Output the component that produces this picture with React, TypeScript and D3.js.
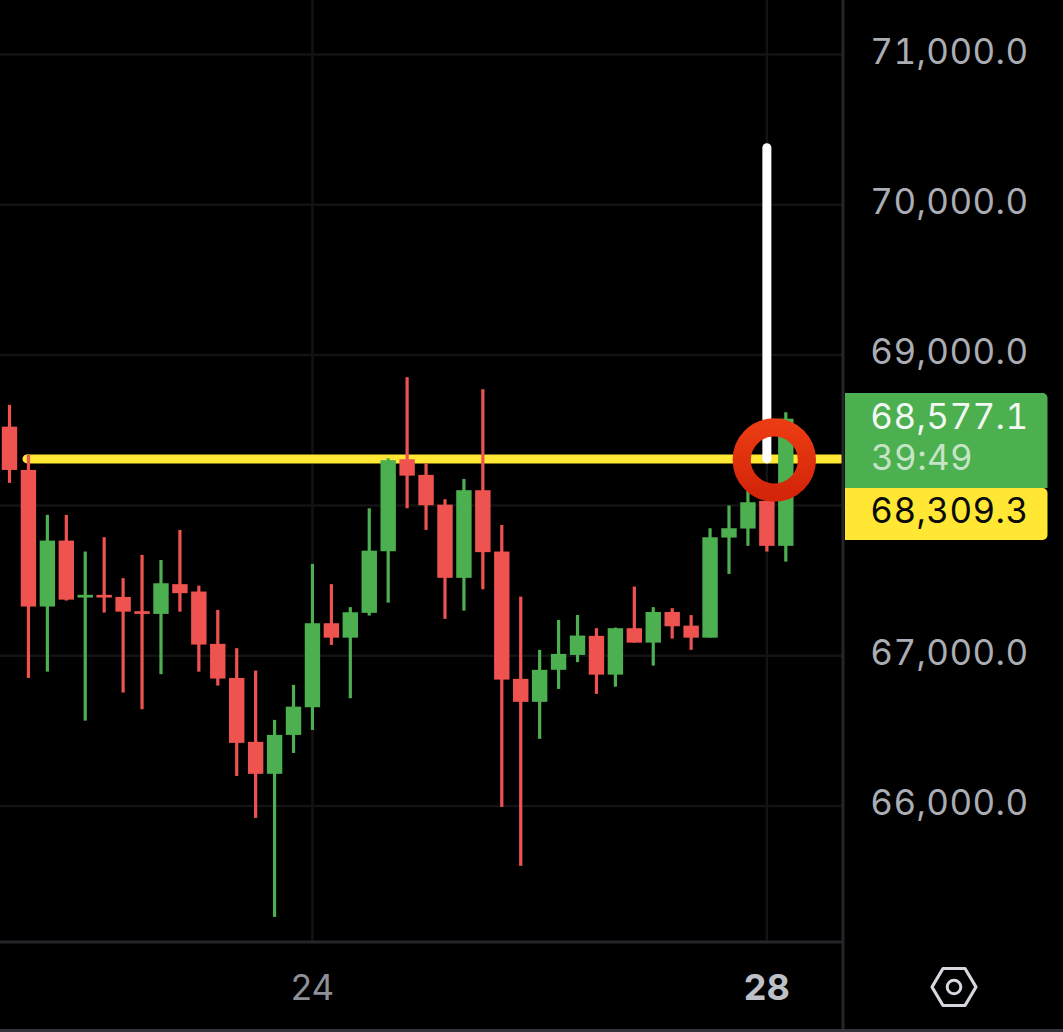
import React, { useEffect } from "react";
import * as d3 from "d3";

const opens = [68524,68236,67327,67766,67387,67405,67391,67296,67278,67476,67427,67079,66852,66427,66214,66473,66657,67216,67120,67285,67695,68307,68203,68005,67518,68101,67693,66846,66693,66906,67005,67132,66874,67183,67087,67291,67200,67120,67786,67846,68030,67731];
const highs = [68669,68336,67937,67937,67693,67788,67516,67671,67637,67837,67466,67305,67050,66901,66573,66806,67611,67476,67323,67981,68314,68853,68281,68041,68176,68773,67870,67393,67039,67238,67271,67183,67187,67460,67323,67316,67270,67848,67999,68103,68050,68620];
const lows = [68150,66852,66894,67367,66568,67287,66755,66644,66877,67293,66894,66801,66200,65921,65262,66353,66506,67072,66717,67267,67353,67981,67837,67245,67300,67442,65994,65602,66447,66779,66957,66746,66794,67087,66934,67114,67039,67120,67544,67731,67693,67626];
const closes = [68236,67327,67766,67373,67405,67387,67293,67278,67482,67416,67074,66848,66420,66214,66473,66661,67216,67120,67289,67699,68301,68198,68001,67518,68101,67689,66841,66693,66906,67012,67134,66874,67183,67087,67291,67196,67120,67788,67848,68021,67731,68577];
const priceTicks = [71000,70000,69000,68000,67000,66000];
const dayTicks = [{ index: 16, label: "24", strong: false }, { index: 40, label: "28", strong: true }];
const lastPrice = 68577.1;
const countdown = "39:49";
const levelPrice = 68309.3;
const arrowTop = 70380;

const W = 1063, H = 1032;
const axisX = 843, axisY = 942;
const GREEN = "#4CAF50", RED = "#EF5350", YEL = "#FFE733";
const FONT = "Inter, 'Noto Sans', sans-serif";
const priceText = { fontSize: 35, letterSpacing: 0.4, style: { fontVariantNumeric: "tabular-nums", fontFeatureSettings: "'tnum'" } };

export default function App() {
  useEffect(() => {
    document.body.style.margin = "0";
    document.body.style.background = "#000";
  }, []);
  const x = d3.scaleLinear().domain([0, 41]).range([9.5, 785.8]);
  const y = d3.scaleLinear().domain([66000, 71000]).range([806, 54.5]);
  const fmt = d3.format(",.1f");
  const yLevel = y(levelPrice);
  const yLast = y(lastPrice);
  const hexCx = 954, hexCy = 987;
  const hexPts = d3.line()([[-22, 0], [-11, -18.5], [11, -18.5], [22, 0], [11, 18.5], [-11, 18.5]].map(([a, b]) => [hexCx + a, hexCy + b] as [number, number])) + "Z";
  return (
    <svg width={W} height={H} viewBox={`0 0 ${W} ${H}`} style={{ display: "block", background: "#000", fontFamily: FONT }}>
      <defs>
        <linearGradient id="ring" x1="0" y1="0" x2="0" y2="1">
          <stop offset="0%" stopColor="#EA3B12" />
          <stop offset="100%" stopColor="#D4250B" />
        </linearGradient>
      </defs>
      {priceTicks.map((p) => (
        <line key={p} x1={0} x2={axisX} y1={y(p)} y2={y(p)} stroke="#131315" strokeWidth={2.5} />
      ))}
      {dayTicks.map((d) => (
        <line key={d.label} x1={x(d.index)} x2={x(d.index)} y1={0} y2={axisY} stroke="#131315" strokeWidth={2.5} />
      ))}
      <line x1={27} x2={axisX} y1={yLevel} y2={yLevel} stroke={YEL} strokeWidth={9} />
      <circle cx={27} cy={yLevel} r={4.5} fill={YEL} />
      {opens.map((o, i) => {
        const c = closes[i];
        const col = c >= o ? GREEN : RED;
        const top = y(Math.max(o, c));
        const bot = y(Math.min(o, c));
        return (
          <g key={i} fill={col}>
            <rect x={x(i) - 1.6} width={3.2} y={y(highs[i])} height={y(lows[i]) - y(highs[i])} />
            <rect x={x(i) - 7.7} width={15.4} y={top} height={Math.max(bot - top, 2.6)} />
          </g>
        );
      })}
      <line x1={x(40)} x2={x(40)} y1={y(arrowTop)} y2={yLevel} stroke="#fff" strokeWidth={9} strokeLinecap="round" />
      <circle cx={774.3} cy={460} r={32.6} fill="none" stroke="url(#ring)" strokeWidth={18.2} />

      <rect x={0} width={axisX} y={axisY - 1.5} height={3} fill="#26262a" />
      <rect x={axisX - 1.5} width={3} y={0} height={H} fill="#26262a" />
      <rect x={0} width={W} y={1029} height={3} fill="#34343f" />
      {priceTicks.filter((p) => p !== 68000).map((p) => (
        <text key={p} x={1028.5} y={y(p) + 9} textAnchor="end" fill="#ABADB4" {...priceText}>{fmt(p)}</text>
      ))}
      <path d="M845 393 H1042.5 a5 5 0 0 1 5 5 V488 H845 Z" fill={GREEN} />
      <path d="M845 488 H1042.5 a5 5 0 0 1 5 5 V535 a5 5 0 0 1 -5 5 H845 Z" fill={YEL} />
      <text x={1028.5} y={yLast + 10} textAnchor="end" fill="#F2F8F2" {...priceText}>{fmt(lastPrice)}</text>
      <text x={871} y={470} fill="#C5E4C6" {...priceText}>{countdown}</text>
      <text x={1028.5} y={523} textAnchor="end" fill="#0A0A0A" {...priceText}>{fmt(levelPrice)}</text>
      {dayTicks.map((d) => (
        <text key={d.label} x={x(d.index)} y={1000} textAnchor="middle" fontSize={d.strong ? 36 : 35} fontWeight={d.strong ? 700 : 400} fill={d.strong ? "#BEC0C8" : "#8E9098"}>{d.label}</text>
      ))}
      <path d={hexPts} fill="none" stroke="#D5D7DE" strokeWidth={3.2} strokeLinejoin="round" />
      <circle cx={hexCx} cy={hexCy} r={6.8} fill="none" stroke="#D5D7DE" strokeWidth={3} />
    </svg>
  );
}
